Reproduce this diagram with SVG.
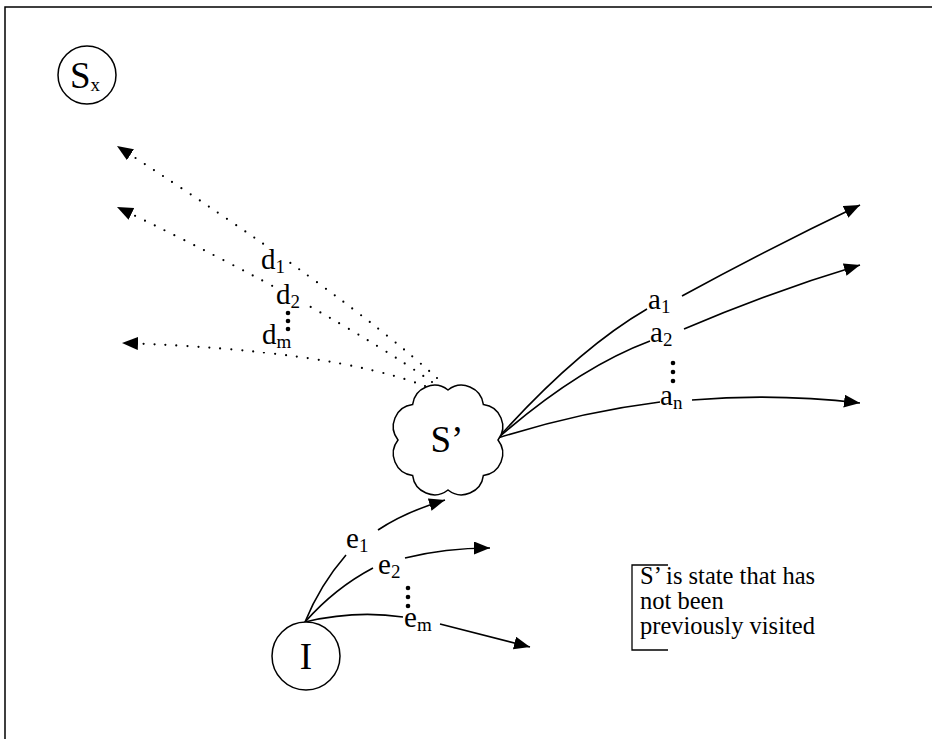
<svg xmlns="http://www.w3.org/2000/svg" width="932" height="739" viewBox="0 0 932 739">
<style>
text{font-family:"Liberation Serif","Times New Roman",serif;fill:#000}
.big{font-size:37px}
.lbl{font-size:29px}
.sub{font-size:19px}
.note{font-size:24.5px}
.solid{fill:none;stroke:#000;stroke-width:1.6}
.dot{fill:none;stroke:#000;stroke-width:2.2;stroke-linecap:round;stroke-dasharray:0 11}
.node{fill:#fff;stroke:#000;stroke-width:1.5}
.bg{fill:#fff}
</style>
<defs>
<marker id="ah" markerUnits="userSpaceOnUse" markerWidth="18" markerHeight="14" refX="16" refY="6.5" orient="auto"><path d="M0,0 L16,6.5 L0,13 z" fill="#000"/></marker>
</defs>
<rect width="932" height="739" fill="#fff"/>
<g id="frame"><path d="M932,7 L5,7 L5,739" fill="none" stroke="#000" stroke-width="1.5"/></g>

<g id="connectors">
<path class="dot" d="M437,378 Q340,290 117,146" marker-end="url(#ah)"/>
<path class="dot" d="M432,382 Q330,310 117,207" marker-end="url(#ah)"/>
<path class="dot" d="M425,386 Q330,350 122,343" marker-end="url(#ah)"/>
<path class="solid" d="M498,438 Q578,349 647,309 M682,296 Q770,248 860,205" marker-end="url(#ah)"/>
<path class="solid" d="M498,438 Q578,368 650,341 M684,329 Q770,292 860,265" marker-end="url(#ah)"/>
<path class="solid" d="M498,438 Q580,412 660,402 M692,400 Q775,393 860,403" marker-end="url(#ah)"/>
<path class="solid" d="M305,622 Q320,585 346,555 M378,530 Q405,512 445,500" marker-end="url(#ah)"/>
<path class="solid" d="M305,622 Q335,588 373,568 M405,558 Q445,548 490,548" marker-end="url(#ah)"/>
<path class="solid" d="M305,622 Q355,610 403,617 M440,624 L530,647" marker-end="url(#ah)"/>
</g>

<g id="labels">
<rect class="bg" x="259" y="251" width="29" height="25"/>
<text class="lbl" x="261" y="269">d<tspan class="sub" dy="4">1</tspan></text>
<rect class="bg" x="274" y="285" width="29" height="25"/>
<text class="lbl" x="276" y="304">d<tspan class="sub" dy="4">2</tspan></text>
<rect class="bg" x="260" y="325" width="34" height="27"/>
<text class="lbl" x="262" y="344">d<tspan class="sub" dy="4">m</tspan></text>
<circle cx="288" cy="313" r="2.3"/><circle cx="288" cy="321" r="2.3"/><circle cx="288" cy="329" r="2.3"/>
<text class="lbl" x="648" y="309">a<tspan class="sub" dy="4">1</tspan></text>
<text class="lbl" x="650" y="342">a<tspan class="sub" dy="4">2</tspan></text>
<text class="lbl" x="660" y="405">a<tspan class="sub" dy="4">n</tspan></text>
<circle cx="673" cy="363" r="2.3"/><circle cx="673" cy="372" r="2.3"/><circle cx="673" cy="381" r="2.3"/>
<text class="lbl" x="346" y="548">e<tspan class="sub" dy="4">1</tspan></text>
<text class="lbl" x="378" y="574">e<tspan class="sub" dy="4">2</tspan></text>
<text class="lbl" x="404" y="627">e<tspan class="sub" dy="4">m</tspan></text>
<circle cx="408" cy="588" r="2.3"/><circle cx="408" cy="597" r="2.3"/><circle cx="408" cy="606" r="2.3"/>
</g>

<g id="node-Sx">
<circle class="node" cx="87" cy="75" r="29"/>
<text class="big" x="70" y="88">S<tspan class="sub" font-size="22" dy="3">x</tspan></text>
</g>

<g id="node-Sprime">
<path class="node" d="M498,440 A22,22 0 0,1 483.4,475.4 A22,22 0 0,1 448,490 A22,22 0 0,1 412.6,475.4 A22,22 0 0,1 398,440 A22,22 0 0,1 412.6,404.6 A22,22 0 0,1 448,390 A22,22 0 0,1 483.4,404.6 A22,22 0 0,1 498,440 Z"/>
<text class="big" x="447" y="452" text-anchor="middle">S’</text>
</g>

<g id="node-I">
<circle class="node" cx="306" cy="656" r="34"/>
<text class="big" x="306" y="669" text-anchor="middle">I</text>
</g>

<g id="note">
<path d="M668,565 L632,565 L632,650 L668,650" fill="none" stroke="#000" stroke-width="1.3"/>
<text class="note" x="640" y="584">S’ is state that has</text>
<text class="note" x="640" y="609">not been</text>
<text class="note" x="640" y="634">previously visited</text>
</g>
</svg>
